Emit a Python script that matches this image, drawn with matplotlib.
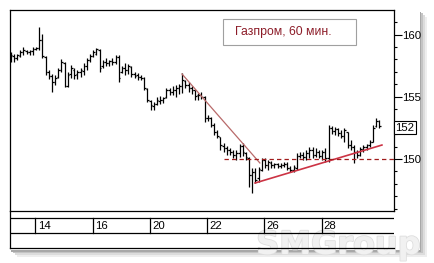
import matplotlib
matplotlib.use('Agg')
import matplotlib.pyplot as plt
from matplotlib.patches import Rectangle
from matplotlib.ticker import MultipleLocator, FixedLocator
import matplotlib.transforms as mtransforms
import matplotlib.patheffects as pe
import numpy as np

# ---- data (hourly OHLC, Gazprom) ----
opens = [157.95, 158.27, 158.11, 158.27, 158.59, 158.67, 158.59, 158.67, 158.84, 158.92,
         159.56, 158.19, 156.99, 156.67, 156.18, 156.59, 157.15, 157.71, 155.86, 156.83,
         157.15, 156.83, 156.99, 157.07, 157.47, 157.95, 158.27, 158.43, 158.76, 157.47,
         157.79, 157.71, 157.87, 157.79, 158.19, 156.99, 157.31, 157.15, 157.39, 156.83,
         156.75, 156.59, 156.51, 155.62, 154.66, 154.26, 154.42, 154.66, 154.74, 154.98,
         155.54, 155.38, 155.54, 155.70, 155.86, 156.27, 155.94, 155.70, 155.54, 155.14,
         155.14, 154.98, 153.29, 153.29, 152.73, 152.17, 151.77, 151.04, 150.88, 150.72,
         150.56, 150.32, 150.48, 151.04, 150.48, 150.08, 148.71, 148.96, 148.47, 149.12,
         149.92, 149.52, 149.68, 149.52, 149.60, 149.44, 149.52, 149.60, 149.28, 149.12,
         149.28, 150.24, 150.32, 150.16, 150.48, 150.72, 150.32, 150.56, 150.24, 150.56,
         150.08, 152.49, 152.25, 152.41, 152.09, 151.85, 152.17, 151.12, 150.96, 150.56,
         150.32, 150.80, 150.96, 151.12, 151.37, 152.65, 153.05]
highs = [158.59, 158.43, 158.43, 158.76, 159.00, 158.76, 158.76, 159.00, 159.00, 160.60,
         160.04, 158.27, 157.15, 156.83, 156.75, 157.31, 158.03, 157.79, 156.99, 157.55,
         157.31, 157.15, 157.31, 157.71, 158.11, 158.43, 158.76, 158.92, 158.84, 157.95,
         158.11, 157.95, 158.11, 158.35, 158.35, 157.47, 157.71, 157.63, 157.47, 156.99,
         156.91, 156.75, 156.59, 155.70, 154.74, 154.58, 154.98, 155.06, 154.98, 155.70,
         155.70, 155.86, 155.94, 156.02, 156.91, 156.35, 156.18, 155.86, 155.54, 155.30,
         155.38, 155.06, 153.53, 153.37, 152.89, 152.33, 151.77, 151.29, 151.04, 150.88,
         150.72, 150.72, 151.20, 151.29, 150.56, 150.16, 149.28, 149.28, 149.36, 150.08,
         150.08, 149.92, 149.84, 149.68, 149.68, 149.68, 149.76, 149.76, 149.44, 149.52,
         150.48, 150.56, 150.56, 150.72, 150.96, 150.96, 150.88, 150.72, 150.72, 150.88,
         152.73, 152.65, 152.57, 152.49, 152.33, 152.49, 152.17, 151.53, 151.12, 150.72,
         150.96, 151.12, 151.20, 151.53, 152.73, 153.29, 153.13]
lows = [157.79, 157.79, 157.95, 158.19, 158.35, 158.43, 158.35, 158.35, 158.76, 158.76,
        158.11, 156.75, 156.43, 155.38, 155.94, 156.51, 156.99, 155.78, 155.78, 156.51,
        156.43, 156.43, 156.59, 156.75, 157.15, 157.79, 158.19, 158.35, 156.99, 157.31,
        157.47, 157.47, 157.55, 157.63, 156.18, 156.91, 156.75, 156.83, 156.59, 156.51,
        156.35, 156.35, 155.54, 154.58, 153.94, 153.94, 154.34, 154.42, 154.50, 154.90,
        155.14, 155.14, 154.98, 155.22, 155.30, 155.70, 155.38, 155.22, 154.74, 154.74,
        154.82, 152.97, 153.05, 152.57, 151.93, 151.69, 150.72, 150.56, 150.32, 150.32,
        150.08, 149.92, 150.16, 150.24, 149.92, 147.75, 147.27, 148.07, 148.15, 149.04,
        149.28, 149.12, 149.28, 149.28, 149.28, 149.28, 149.36, 149.12, 148.96, 148.96,
        149.12, 150.08, 149.92, 149.92, 150.08, 150.08, 150.16, 150.08, 149.92, 149.76,
        149.76, 152.01, 151.93, 151.85, 151.69, 151.37, 150.88, 150.72, 149.68, 150.08,
        150.24, 150.56, 150.72, 150.96, 151.37, 152.57, 152.49]
closes = [158.35, 158.11, 158.35, 158.59, 158.76, 158.59, 158.67, 158.84, 158.92, 159.56,
          158.27, 156.99, 156.67, 156.18, 156.51, 157.15, 157.79, 155.86, 156.75, 157.31,
          156.75, 156.99, 157.15, 157.47, 157.95, 158.27, 158.59, 158.84, 157.31, 157.79,
          157.71, 157.87, 157.79, 158.19, 156.51, 157.31, 157.15, 157.47, 156.83, 156.67,
          156.59, 156.51, 155.70, 154.74, 154.34, 154.42, 154.74, 154.74, 154.90, 155.54,
          155.38, 155.54, 155.70, 155.86, 156.35, 155.94, 155.70, 155.54, 155.06, 155.14,
          154.98, 153.29, 153.29, 152.73, 152.17, 151.85, 151.12, 150.88, 150.72, 150.56,
          150.32, 150.48, 151.04, 150.56, 150.16, 148.71, 148.96, 148.31, 149.20, 149.92,
          149.52, 149.76, 149.52, 149.60, 149.44, 149.52, 149.60, 149.28, 149.12, 149.36,
          150.24, 150.32, 150.16, 150.48, 150.72, 150.32, 150.56, 150.24, 150.56, 150.08,
          152.49, 152.25, 152.41, 152.09, 151.85, 152.33, 151.12, 150.96, 150.56, 150.32,
          150.80, 150.96, 151.12, 151.37, 152.49, 153.05, 152.65]

day_labels = ['14', '16', '20', '22', '26', '28']
day_start_bar = [8, 26, 44, 62, 80, 98]

down_trend_x = [53.9, 78.4]
down_trend_y = [156.83, 149.68]
up_trend_x = [76.9, 116.8]
up_trend_y = [148.07, 151.12]
support_level = 150.0
support_start_bar = 67.1

price_ticks = [150, 155, 160]
last_price = 152.5
last_price_label = '152'
title = 'Газпром, 60 мин.'

# ---- figure ----
W, H = 435, 263
fig = plt.figure(figsize=(W / 100, H / 100), dpi=100)
fig.patch.set_facecolor('white')

def fx(x):
    return x / W

def fy(y):
    return 1 - y / H

# shadow + panel
for off, col in [(7, '#eeeeee'), (5, '#dcdcdc'), (3, '#c4c4c4'), (1.5, '#a8a8a8')]:
    fig.add_artist(Rectangle((fx(10 + off), fy(250 + off)), fx(410), 240 / H,
                             transform=fig.transFigure, fc=col, ec='none', zorder=-5))
fig.add_artist(Rectangle((fx(10), fy(250)), fx(410), 240 / H,
                         transform=fig.transFigure, fc='white', ec='none', zorder=-4))

# watermark
fig.text(fx(421), fy(254), 'SMGroup', ha='right', va='baseline', fontsize=23,
         fontweight='bold', family='DejaVu Sans', color='#f1f1f1', zorder=-3,
         path_effects=[pe.withStroke(linewidth=1.2, foreground='#dedede')])

xmin, xmax = -0.2, 120.6
ymin, ymax = 145.82, 161.97

ax = fig.add_axes([fx(10), fy(211), 384 / W, 201 / H])
ax.set_facecolor('white')
ax.set_xlim(xmin, xmax)
ax.set_ylim(ymin, ymax)

x = np.arange(len(opens))
lw = 0.9
ax.vlines(x, lows, highs, color='black', lw=lw)
ax.hlines(opens, x - 0.5, x, color='black', lw=lw)
ax.hlines(closes, x, x + 0.5, color='black', lw=lw)

ax.plot(down_trend_x, down_trend_y, color='#b86a6a', lw=0.9)
ax.plot(up_trend_x, up_trend_y, color='#cc3344', lw=1.2)
ax.plot([support_start_bar, xmax], [support_level, support_level], color='#a01c1c',
        lw=0.9, ls=(0, (3.5, 2.5)))

for s in ax.spines.values():
    s.set_color('black')
    s.set_linewidth(0.9)

ax.yaxis.tick_right()
ax.yaxis.set_major_locator(FixedLocator(price_ticks))
ax.yaxis.set_minor_locator(MultipleLocator(1))
ax.tick_params(axis='y', which='major', length=5.5, width=0.8, direction='out',
               labelsize=8.2, pad=0.5, colors='black')
ax.tick_params(axis='y', which='minor', length=2.5, width=0.8, direction='out')
for lab in ax.get_yticklabels():
    lab.set_family('Liberation Sans')
ax.set_xticks([])

# last price box
trans = mtransforms.blended_transform_factory(ax.transAxes, ax.transData)
ax.text(1.004, last_price, last_price_label, transform=trans, ha='left', va='center',
        fontsize=8.2, family='Liberation Sans', clip_on=False,
        bbox=dict(boxstyle='square,pad=0.12', fc='white', ec='black', lw=0.8))

# title box
ax.add_patch(Rectangle((0.5547, 0.826), 0.3464, 0.129, transform=ax.transAxes,
                       fc='white', ec='#a0a0a0', lw=0.8))
ax.text(0.711, 0.889, title, transform=ax.transAxes, ha='center', va='center',
        fontsize=8.8, family='Liberation Sans', color='#8c1c28')

# date band
band = fig.add_axes([fx(10), fy(248), 384 / W, 37 / H])
band.set_facecolor('none')
band.set_xlim(xmin, xmax)
band.set_ylim(37, 0)
for k, s in band.spines.items():
    s.set_visible(k in ('left', 'bottom'))
    s.set_color('black')
    s.set_linewidth(0.9)
band.set_xticks([])
band.set_yticks([])
band.axhline(7, color='black', lw=0.9)
band.axhline(22, color='black', lw=0.9)
for b, lab in zip(day_start_bar, day_labels):
    band.plot([b - 0.2, b - 0.2], [7, 22], color='black', lw=0.9)
    band.text(b + 0.5, 14.8, lab, ha='left', va='center', fontsize=8.2,
              family='Liberation Sans', color='black')

fig.savefig('out.png', dpi=100)
